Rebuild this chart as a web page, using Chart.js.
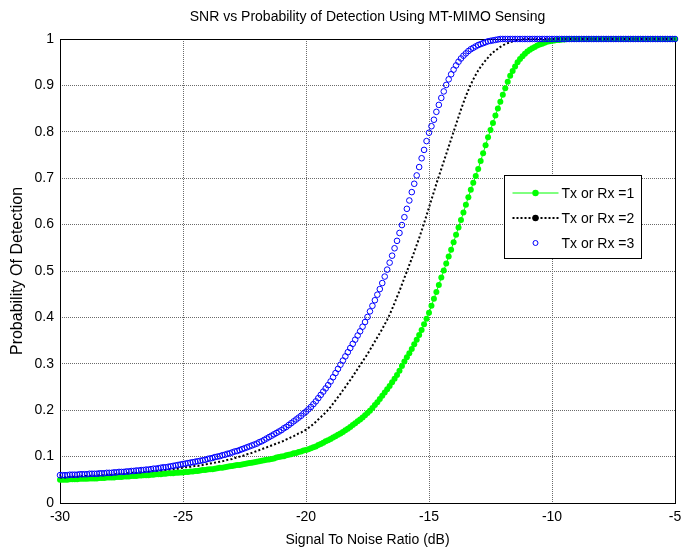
<!DOCTYPE html>
<html><head><meta charset="utf-8">
<script src="https://cdn.jsdelivr.net/npm/chart.js@4.4.0/dist/chart.umd.min.js"></script>
<style>html,body{margin:0;padding:0;background:#fff;}canvas{display:block;}</style>
</head><body>
<canvas id="c" width="690" height="552"></canvas>
<script>
const chartTitle = 'SNR vs Probability of Detection Using MT-MIMO Sensing';
const xAxisTitle = 'Signal To Noise Ratio (dB)';
const yAxisTitle = 'Probability Of Detection';
const seriesNames = ['Tx or Rx =1', 'Tx or Rx =2', 'Tx or Rx =3'];
const xTicks = [-30, -25, -20, -15, -10, -5];
const yTicks = [0, 0.1, 0.2, 0.3, 0.4, 0.5, 0.6, 0.7, 0.8, 0.9, 1];
const yTickLabels = ['0', '0.1', '0.2', '0.3', '0.4', '0.5', '0.6', '0.7', '0.8', '0.9', '1'];
const snrStart = -30;
const snrStep = 0.1;

// Tx or Rx = 1 (green), SNR -30 .. -5 dB in 0.1 dB steps
const pdTx1 = [
0.050,0.050,0.050,0.050,0.051,0.051,0.051,0.051,0.052,0.052,
0.052,0.052,0.053,0.053,0.053,0.053,0.054,0.054,0.054,0.055,
0.055,0.055,0.055,0.056,0.056,0.056,0.057,0.057,0.057,0.058,
0.058,0.058,0.059,0.059,0.060,0.060,0.060,0.061,0.061,0.062,
0.062,0.062,0.063,0.063,0.064,0.064,0.064,0.065,0.065,0.066,
0.066,0.067,0.067,0.068,0.068,0.069,0.069,0.070,0.071,0.071,
0.072,0.073,0.073,0.074,0.075,0.076,0.076,0.077,0.078,0.079,
0.080,0.081,0.082,0.082,0.083,0.084,0.085,0.086,0.087,0.088,
0.089,0.090,0.091,0.092,0.093,0.094,0.095,0.096,0.098,0.099,
0.100,0.101,0.103,0.104,0.105,0.107,0.108,0.110,0.111,0.113,
0.114,0.116,0.118,0.120,0.122,0.125,0.127,0.130,0.133,0.135,
0.138,0.141,0.144,0.147,0.150,0.153,0.157,0.160,0.164,0.168,
0.172,0.176,0.180,0.184,0.189,0.194,0.199,0.205,0.211,0.217,
0.224,0.231,0.238,0.245,0.252,0.260,0.268,0.276,0.285,0.295,
0.305,0.314,0.323,0.332,0.342,0.352,0.362,0.373,0.385,0.397,
0.410,0.425,0.440,0.455,0.470,0.486,0.501,0.516,0.531,0.546,
0.562,0.578,0.594,0.610,0.626,0.643,0.659,0.675,0.690,0.705,
0.720,0.737,0.754,0.771,0.788,0.804,0.819,0.835,0.850,0.865,
0.880,0.894,0.908,0.921,0.931,0.941,0.950,0.957,0.963,0.968,
0.973,0.977,0.980,0.983,0.986,0.988,0.990,0.992,0.994,0.995,
0.996,0.997,0.998,0.998,0.999,0.999,1,1,1,1,
1,1,1,1,1,1,1,1,1,1,
1,1,1,1,1,1,1,1,1,1,
1,1,1,1,1,1,1,1,1,1,
1,1,1,1,1,1,1,1,1,1,
1
];

// Tx or Rx = 2 (black dotted)
const pdTx2 = [
0.055,0.055,0.055,0.056,0.056,0.056,0.057,0.057,0.057,0.058,
0.058,0.058,0.058,0.059,0.059,0.059,0.060,0.060,0.060,0.061,
0.061,0.061,0.062,0.062,0.063,0.063,0.063,0.064,0.064,0.065,
0.065,0.065,0.066,0.066,0.067,0.067,0.068,0.068,0.069,0.069,
0.070,0.070,0.071,0.071,0.072,0.073,0.073,0.074,0.074,0.075,
0.076,0.077,0.077,0.078,0.079,0.080,0.080,0.081,0.082,0.083,
0.084,0.085,0.086,0.087,0.088,0.089,0.090,0.091,0.093,0.094,
0.095,0.097,0.098,0.100,0.101,0.103,0.105,0.106,0.108,0.110,
0.112,0.114,0.116,0.118,0.120,0.122,0.124,0.126,0.128,0.130,
0.132,0.134,0.137,0.139,0.142,0.144,0.147,0.150,0.152,0.155,
0.158,0.162,0.166,0.170,0.175,0.180,0.185,0.190,0.195,0.201,
0.207,0.214,0.221,0.228,0.235,0.243,0.250,0.258,0.265,0.273,
0.281,0.289,0.297,0.305,0.313,0.321,0.330,0.339,0.348,0.357,
0.366,0.375,0.385,0.395,0.406,0.418,0.431,0.444,0.457,0.471,
0.485,0.499,0.513,0.527,0.541,0.556,0.571,0.587,0.603,0.620,
0.637,0.654,0.671,0.688,0.704,0.720,0.736,0.752,0.768,0.784,
0.800,0.816,0.832,0.848,0.863,0.877,0.890,0.902,0.913,0.923,
0.932,0.940,0.947,0.954,0.960,0.966,0.971,0.975,0.979,0.983,
0.986,0.989,0.991,0.993,0.995,0.996,0.997,0.998,0.999,1,
1,1,1,1,1,1,1,1,1,1,
1,1,1,1,1,1,1,1,1,1,
1,1,1,1,1,1,1,1,1,1,
1,1,1,1,1,1,1,1,1,1,
1,1,1,1,1,1,1,1,1,1,
1,1,1,1,1,1,1,1,1,1,
1
];

// Tx or Rx = 3 (blue circles)
const pdTx3 = [
0.060,0.060,0.060,0.060,0.061,0.061,0.061,0.061,0.062,0.062,
0.062,0.062,0.063,0.063,0.063,0.063,0.064,0.064,0.064,0.065,
0.065,0.065,0.066,0.066,0.067,0.067,0.067,0.068,0.068,0.069,
0.069,0.070,0.070,0.071,0.071,0.072,0.072,0.073,0.074,0.074,
0.075,0.076,0.077,0.077,0.078,0.079,0.080,0.081,0.082,0.083,
0.084,0.085,0.086,0.087,0.088,0.089,0.090,0.091,0.092,0.093,
0.095,0.096,0.097,0.099,0.100,0.101,0.103,0.104,0.106,0.107,
0.109,0.111,0.112,0.114,0.116,0.118,0.120,0.122,0.124,0.126,
0.128,0.131,0.133,0.136,0.139,0.142,0.145,0.148,0.151,0.154,
0.157,0.161,0.164,0.168,0.172,0.176,0.180,0.184,0.188,0.193,
0.197,0.202,0.207,0.213,0.219,0.226,0.233,0.240,0.247,0.254,
0.262,0.271,0.280,0.289,0.298,0.307,0.316,0.325,0.334,0.343,
0.352,0.361,0.370,0.380,0.390,0.401,0.413,0.425,0.437,0.449,
0.461,0.474,0.488,0.503,0.518,0.533,0.549,0.565,0.582,0.599,
0.616,0.634,0.652,0.670,0.688,0.706,0.724,0.743,0.761,0.780,
0.798,0.812,0.826,0.843,0.858,0.873,0.887,0.901,0.913,0.924,
0.934,0.943,0.951,0.958,0.964,0.969,0.974,0.978,0.981,0.984,
0.987,0.989,0.991,0.993,0.995,0.996,0.997,0.998,0.999,1,
1,1,1,1,1,1,1,1,1,1,
1,1,1,1,1,1,1,1,1,1,
1,1,1,1,1,1,1,1,1,1,
1,1,1,1,1,1,1,1,1,1,
1,1,1,1,1,1,1,1,1,1,
1,1,1,1,1,1,1,1,1,1,
1,1,1,1,1,1,1,1,1,1,
1
];

const FONT = '"Liberation Sans", Arial, sans-serif';
const snrDb = pdTx1.map((_, i) => Math.round((snrStart + i * snrStep) * 10) / 10);
const toPts = arr => arr.map((v, i) => ({ x: snrDb[i], y: v }));

const boxPlugin = {
  id: 'axesBox',
  beforeDatasetsDraw(chart) {
    const { ctx, chartArea: a } = chart;
    ctx.save();
    ctx.strokeStyle = '#000';
    ctx.lineWidth = 1;
    ctx.strokeRect(Math.round(a.left) + 0.5, Math.round(a.top) + 0.5, Math.round(a.right - a.left), Math.round(a.bottom - a.top));
    ctx.restore();
  }
};

const legendPlugin = {
  id: 'insideLegend',
  afterDraw(chart) {
    const { ctx, chartArea: a } = chart;
    const bx = Math.round(a.right - 171) + 0.5, by = Math.round(a.top + 136) + 0.5;
    const bw = 137, bh = 83;
    ctx.save();
    ctx.fillStyle = '#fff';
    ctx.fillRect(bx, by, bw, bh);
    ctx.strokeStyle = '#000';
    ctx.lineWidth = 1;
    ctx.strokeRect(bx, by, bw, bh);
    const ds = chart.data.datasets;
    const rowY = [by + 17.5, by + 42.5, by + 67.5];
    const x0 = bx + 8, x1 = bx + 54, xm = bx + 31;
    ctx.font = '14px ' + FONT;
    ctx.textBaseline = 'middle';
    ctx.textAlign = 'left';
    ds.forEach((d, i) => {
      const y = rowY[i];
      if (i === 0) {
        ctx.strokeStyle = d.borderColor; ctx.lineWidth = 1; ctx.setLineDash([]);
        ctx.beginPath(); ctx.moveTo(x0, y); ctx.lineTo(x1, y); ctx.stroke();
        ctx.fillStyle = d.pointBackgroundColor;
        ctx.beginPath(); ctx.arc(xm, y, 3.2, 0, Math.PI * 2); ctx.fill();
      } else if (i === 1) {
        ctx.strokeStyle = d.borderColor; ctx.lineWidth = 2; ctx.setLineDash([2, 2]);
        ctx.beginPath(); ctx.moveTo(x0, y); ctx.lineTo(x1, y); ctx.stroke();
        ctx.setLineDash([]);
        ctx.fillStyle = '#000';
        ctx.beginPath(); ctx.arc(xm, y, 3.2, 0, Math.PI * 2); ctx.fill();
      } else {
        ctx.setLineDash([]);
        ctx.strokeStyle = d.pointBorderColor; ctx.lineWidth = 1;
        ctx.beginPath(); ctx.arc(xm, y, 2.5, 0, Math.PI * 2); ctx.stroke();
      }
      ctx.fillStyle = '#000';
      ctx.fillText(d.label, bx + 57, y + 1);
    });
    ctx.restore();
  }
};

const gridStyle = { color: '#6a6a6a', lineWidth: 1, drawTicks: false };

new Chart(document.getElementById('c'), {
  type: 'scatter',
  data: {
    datasets: [
      { label: seriesNames[0], data: toPts(pdTx1), showLine: true, borderColor: '#00ff00', borderWidth: 1,
        pointRadius: 3, pointBackgroundColor: '#00ff00', pointBorderColor: '#00ff00', pointBorderWidth: 0,
        order: 3, clip: false },
      { label: seriesNames[1], data: toPts(pdTx2), showLine: true, borderColor: '#000000', borderWidth: 2,
        borderDash: [2, 2.2], pointRadius: 0, order: 2, clip: false },
      { label: seriesNames[2], data: toPts(pdTx3), showLine: false, borderColor: '#0000ff',
        pointRadius: 2.8, pointBackgroundColor: 'rgba(0,0,0,0)', pointBorderColor: '#0000ff', pointBorderWidth: 1,
        order: 1, clip: false }
    ]
  },
  options: {
    responsive: false,
    animation: false,
    devicePixelRatio: 1,
    layout: { padding: { left: 0, right: 15, top: 0, bottom: 0 } },
    plugins: {
      legend: { display: false },
      tooltip: { enabled: false },
      title: { display: true, fullSize: false, text: chartTitle, color: '#000', font: { family: FONT, size: 14, weight: 'normal' },
               padding: { top: 9, bottom: 13.2 } }
    },
    scales: {
      x: {
        type: 'linear', min: -30, max: -5,
        afterBuildTicks: s => { s.ticks = xTicks.map(v => ({ value: v })); },
        afterFit: s => { s.height = 49; },
        ticks: { color: '#000', font: { family: FONT, size: 14 }, padding: 6, maxRotation: 0, autoSkip: false,
                 callback: v => String(v) },
        grid: gridStyle,
        border: { display: false, dash: [1, 1] },
        title: { display: true, text: xAxisTitle, color: '#000', font: { family: FONT, size: 14 }, padding: { top: 0, bottom: 3.6 } }
      },
      y: {
        type: 'linear', min: 0, max: 1,
        afterBuildTicks: s => { s.ticks = yTicks.map(v => ({ value: v })); },
        afterFit: s => { s.width = 60; },
        ticks: { color: '#000', font: { family: FONT, size: 14 }, padding: 6, autoSkip: false,
                 callback: (v, i) => yTickLabels[i] },
        grid: gridStyle,
        border: { display: false, dash: [1, 1] },
        title: { display: true, text: yAxisTitle, color: '#000', font: { family: FONT, size: 16 }, padding: { top: 8, bottom: 0 } }
      }
    }
  },
  plugins: [boxPlugin, legendPlugin]
});
</script>
</body></html>
